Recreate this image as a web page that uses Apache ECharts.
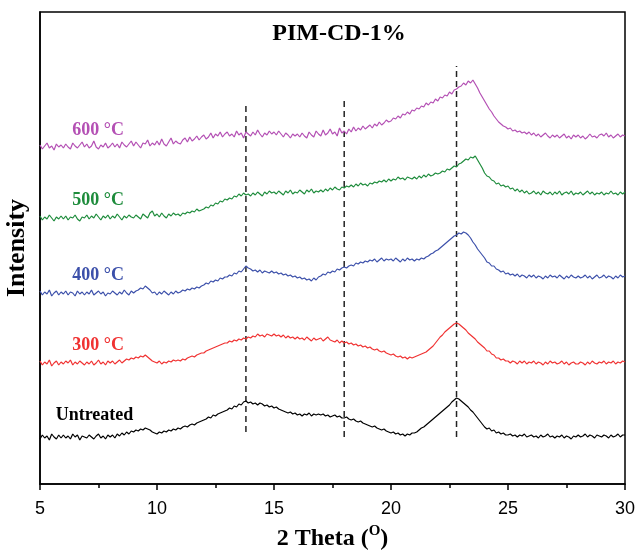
<!DOCTYPE html>
<html>
<head>
<meta charset="utf-8">
<script src="https://cdn.jsdelivr.net/npm/echarts@6/dist/echarts.min.js"></script>
<style>html,body{margin:0;padding:0;background:#fff;}#chart{width:638px;height:550px;}</style>
</head>
<body>
<div id="chart"></div>
<script>
// 2-theta grid: 5.0 .. 30.0 deg, step 0.1
const angleStart = 5;
const angleStep = 0.1;

const intensity600 = [
339,335,338,341,336,338,334,340,337,339,
336,340,337,335,341,338,336,339,342,337,
340,336,338,343,337,335,339,337,341,336,
338,341,337,340,336,342,339,337,340,343,
338,342,339,336,341,340,344,338,341,339,
343,339,345,340,338,342,346,340,343,341,
340,344,346,342,347,343,345,348,344,347,
349,345,347,351,346,350,348,352,347,350,
352,348,350,347,353,349,351,346,352,350,
348,352,349,354,350,347,351,349,353,350,
352,349,353,350,347,351,349,346,350,348,
350,347,351,348,346,352,349,347,353,350,
348,354,349,351,355,350,352,348,356,351,
353,350,355,352,357,353,356,354,358,355,
357,359,356,360,358,362,359,361,364,362,
363,366,365,368,366,370,369,372,370,374,
373,376,375,378,377,381,379,382,381,385,
383,387,386,389,388,392,390,394,395,397,
398,401,399,403,401,404,400,396,391,387,
383,379,375,372,368,365,362,360,358,357,
355,356,353,354,352,353,351,352,350,352,
349,351,348,350,347,349,351,348,346,349,
347,349,346,348,350,346,348,345,349,347,
349,346,348,345,347,350,347,348,346,349,
350,348,351,347,349,346,348,350,347,349,
348
];

const intensity500 = [
268,264,267,265,269,266,263,267,265,268,
265,268,264,267,266,269,265,263,267,266,
269,265,268,266,270,267,264,268,266,269,
265,268,266,270,267,264,268,266,269,267,
266,269,267,265,270,268,266,271,273,268,
270,267,271,268,266,270,268,271,269,270,
268,271,270,272,271,273,272,275,273,274,
275,277,276,279,278,281,280,283,282,285,
284,286,285,288,287,290,288,291,289,290,
288,291,289,292,290,288,292,290,293,291,
292,290,293,291,289,293,291,294,290,292,
291,294,292,290,294,292,295,291,293,292,
294,292,295,293,296,294,297,295,294,297,
296,298,297,299,297,300,298,301,299,300,
298,301,300,302,301,303,302,304,302,305,
303,305,304,307,305,306,304,307,306,305,
307,305,308,306,309,307,310,308,309,311,
310,311,313,312,315,314,316,318,317,320,
321,323,325,324,327,326,328,324,320,316,
311,308,307,304,303,300,301,298,299,297,
298,295,296,293,295,292,294,291,293,290,
291,293,290,292,289,293,291,290,292,289,
292,290,293,289,291,292,290,293,289,291,
290,292,289,291,293,290,292,289,291,290,
292,289,291,290,293,290,291,289,292,290,
292
];

const intensity400 = [
193,189,192,190,194,188,191,193,189,192,
190,193,189,192,191,188,193,190,192,189,
192,190,194,189,191,193,190,192,188,191,
190,193,191,189,192,190,194,191,189,193,
191,193,194,196,195,198,196,194,191,192,
189,192,190,193,191,189,192,190,193,191,
192,194,193,195,194,196,195,197,196,198,
199,201,200,203,202,204,203,206,205,207,
207,209,208,211,210,213,212,215,218,216,
215,213,214,212,214,211,213,212,211,213,
211,212,210,211,209,210,208,209,207,208,
206,207,205,206,204,205,203,206,204,207,
208,210,209,212,211,213,212,215,214,216,
217,216,218,219,218,221,220,222,221,223,
222,224,223,225,222,224,226,223,225,224,
225,223,226,224,222,225,223,226,224,225,
223,225,224,226,225,227,228,230,231,233,
234,236,238,240,242,244,246,248,249,251,
250,252,251,249,246,242,239,235,232,229,
226,222,221,218,218,215,214,212,213,210,
211,209,210,208,210,207,209,208,206,209,
207,209,206,208,207,205,208,206,209,207,
208,206,209,207,205,208,206,209,207,206,
208,206,207,209,206,208,205,207,209,206,
207,209,206,208,207,205,208,206,209,207,
208
];

const intensity300 = [
123,119,122,120,124,118,121,123,119,122,
120,123,121,124,119,122,120,123,121,119,
122,120,123,119,121,124,120,122,119,123,
121,123,120,122,124,121,123,125,124,126,
125,127,126,128,127,129,127,125,123,122,
121,123,120,122,121,123,122,124,123,124,
123,125,124,126,127,128,127,129,130,131,
131,133,134,135,136,137,138,139,140,141,
141,143,142,144,143,145,144,146,145,147,
146,148,147,150,148,149,147,150,149,148,
150,148,149,147,149,146,148,146,147,145,
147,145,146,144,147,145,143,146,144,145,
146,143,145,147,144,143,142,144,141,143,
141,142,140,141,139,140,138,139,137,138,
136,137,135,134,135,133,132,133,131,130,
129,130,128,127,128,126,127,125,127,126,
127,128,129,130,131,132,134,136,138,141,
144,147,149,152,154,156,158,160,161,160,
158,156,154,151,149,147,145,142,140,138,
136,133,133,130,129,126,126,124,125,123,
123,121,123,122,120,123,121,123,120,122,
121,123,120,122,121,119,122,120,123,121,
122,120,121,123,120,122,119,121,122,120,
120,122,121,119,122,120,123,121,120,122,
121,123,120,122,121,123,120,122,121,123,
122
];

const intensityUntreated = [
45,49,46,48,44,50,47,45,49,46,
49,46,48,45,50,47,49,44,48,47,
46,49,47,45,48,50,46,48,45,49,
47,49,46,50,48,51,49,52,50,53,
52,54,53,55,54,56,55,54,52,51,
50,52,51,53,52,54,53,55,54,56,
55,57,58,57,59,60,59,61,62,63,
64,65,67,66,69,68,70,71,72,73,
74,76,75,78,77,80,79,82,83,81,
82,80,81,79,81,80,78,79,77,78,
76,77,75,74,73,72,71,72,70,71,
69,70,68,70,69,71,68,70,69,70,
69,70,68,69,67,68,69,67,68,66,
66,67,65,64,65,63,62,63,61,60,
59,58,57,58,56,55,54,55,53,52,
51,52,50,51,49,50,48,50,49,51,
51,52,54,56,57,59,61,63,65,67,
69,71,73,75,77,79,82,84,86,85,
83,81,79,77,74,72,69,66,63,60,
57,55,56,53,54,51,52,50,51,49,
49,50,48,49,47,49,48,50,47,48,
49,47,48,46,49,47,48,50,47,48,
46,48,47,49,46,48,47,45,48,47,
49,47,48,50,47,49,48,46,49,48,
47,49,48,46,49,47,48,50,47,49,
49
];

const seriesNames = ['Untreated', '300 °C', '400 °C', '500 °C', '600 °C'];
const seriesColors = ['#000000', '#f03232', '#3c50aa', '#1e8c3c', '#b450b4'];
const seriesData = [intensityUntreated, intensity300, intensity400, intensity500, intensity600];
// label anchor (2θ, intensity) for each curve name
const labelAngle = [7.33, 7.48, 7.48, 7.48, 7.48];
const labelIntensity = [69, 139, 209, 284, 354];

// reference dashed lines
const dashAngle = [13.8, 18.0, 22.8];
const dashLow = [52, 47, 47];
const dashHigh = [379, 384, 418];

const xTicks = [5, 10, 15, 20, 25, 30];

const serif = '"Liberation Serif","Times New Roman",serif';

function toPairs(arr) {
  return arr.map((v, i) => [Math.round((angleStart + i * angleStep) * 10) / 10, v]);
}

const series = [];
seriesData.forEach((arr, k) => {
  series.push({
    name: seriesNames[k],
    type: 'line',
    data: toPairs(arr),
    symbol: 'none',
    lineStyle: { color: seriesColors[k], width: 1.2 },
    z: 3,
    markPoint: {
      symbol: 'circle',
      symbolSize: 0,
      data: [{ coord: [labelAngle[k], labelIntensity[k]] }],
      label: {
        show: true,
        position: 'inside',
        formatter: seriesNames[k],
        color: seriesColors[k],
        fontFamily: serif,
        fontWeight: 'bold',
        fontSize: 18
      }
    }
  });
});
dashAngle.forEach((a, k) => {
  series.push({
    type: 'line',
    data: [[a, dashLow[k]], [a, dashHigh[k]]],
    symbol: 'none',
    lineStyle: { color: '#222', width: 1.5, type: [6, 4] },
    z: 2
  });
});

const chart = echarts.init(document.getElementById('chart'), null, { renderer: 'canvas' });
chart.setOption({
  animation: false,
  backgroundColor: '#fff',
  title: {
    text: 'PIM-CD-1%',
    left: 334,
    top: 17,
    textAlign: 'center',
    textStyle: { fontFamily: serif, fontWeight: 'bold', fontSize: 24, color: '#000' }
  },
  grid: {
    left: 40, right: 13, top: 12, bottom: 66,
    containLabel: false,
    outerBoundsMode: 'none',
    show: true, borderColor: '#000', borderWidth: 1.5, backgroundColor: 'transparent'
  },
  xAxis: {
    type: 'value',
    min: xTicks[0], max: xTicks[xTicks.length - 1], interval: 5,
    name: '2 Theta ({sup|O})',
    nameLocation: 'middle',
    nameGap: 40,
    nameTextStyle: {
      fontFamily: serif, fontWeight: 'bold', fontSize: 24, color: '#000',
      rich: { sup: { fontFamily: serif, fontWeight: 'bold', fontSize: 15, color: '#000', verticalAlign: 'top', padding: [0, 0, 14, 0] } }
    },
    axisLine: { show: true, lineStyle: { color: '#000', width: 1.5 } },
    axisTick: { show: true, length: 6, lineStyle: { color: '#000', width: 1.5 } },
    minorTick: { show: true, splitNumber: 2, length: 4, lineStyle: { color: '#000', width: 1.5 } },
    axisLabel: { color: '#000', fontSize: 18, fontFamily: '"Liberation Sans",Arial,sans-serif', margin: 16 },
    splitLine: { show: false }
  },
  yAxis: {
    type: 'value',
    min: 0, max: 472,
    name: 'Intensity',
    nameLocation: 'middle',
    nameGap: 10,
    nameTextStyle: { fontFamily: serif, fontWeight: 'bold', fontSize: 26, color: '#000' },
    axisLine: { show: true, lineStyle: { color: '#000', width: 1.5 } },
    axisTick: { show: false },
    axisLabel: { show: false },
    splitLine: { show: false }
  },
  series: series
});
</script>
</body>
</html>
